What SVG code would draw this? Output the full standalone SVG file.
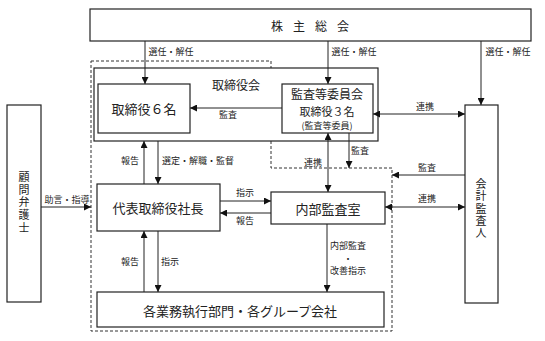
<svg xmlns="http://www.w3.org/2000/svg" width="545" height="341" viewBox="0 0 545 341">
<style>
.box{fill:#fff;stroke:#222;stroke-width:1.2}
.ln{stroke:#222;stroke-width:1;fill:none}
.dash{stroke:#333;stroke-width:1;fill:none;stroke-dasharray:3,2}
text{font-family:"Noto Sans CJK JP","Noto Sans CJK SC",sans-serif;fill:#222;text-anchor:middle;dominant-baseline:central}
.t13{font-size:13px}
.t12{font-size:12px}
.t11{font-size:11px}
.t9{font-size:9px}
.vt{font-size:11px;writing-mode:vertical-rl;dominant-baseline:auto}
</style>
<defs>
<marker id="ah" viewBox="0 0 10 10" refX="10" refY="5" markerWidth="7" markerHeight="7" orient="auto-start-reverse" markerUnits="userSpaceOnUse">
<path d="M0,0 L10,5 L0,10 z" fill="#111"/>
</marker>
</defs>
<rect width="545" height="341" fill="#fff"/>
<g id="boundary">
<path class="dash" d="M91,61 H271 V168 H392 V331 H91 Z"/>
</g>
<g id="kabunushi">
<rect class="box" x="90" y="9" width="441" height="32"/>
<text class="t12" x="315" y="25" letter-spacing="10">株主総会</text>
</g>
<g id="torishimariyakukai">
<rect class="box" x="94" y="68" width="284" height="73"/>
<text class="t12" x="236" y="84">取締役会</text>
</g>
<g id="torishimariyaku6">
<rect class="box" x="98" y="84" width="92" height="49"/>
<text class="t13" x="144" y="108">取締役６名</text>
</g>
<g id="kansa-iinkai">
<rect class="box" x="282" y="84" width="91" height="49"/>
<text class="t12" x="327" y="93">監査等委員会</text>
<text class="t11" x="327" y="110.5">取締役３名</text>
<text class="t9" x="327" y="125.5" font-size="9.5">(監査等委員)</text>
</g>
<g id="kaikei">
<rect class="box" x="465" y="105" width="33" height="198"/>
<text class="vt" x="481" y="209" letter-spacing="1.2">会計監査人</text>
</g>
<g id="komon">
<rect class="box" x="7" y="105" width="34" height="197"/>
<text class="vt" x="24" y="203" letter-spacing="1.6">顧問弁護士</text>
</g>
<g id="daihyo">
<rect class="box" x="97" y="184" width="123" height="47"/>
<text class="t13" x="158" y="207">代表取締役社長</text>
</g>
<g id="naibu">
<rect class="box" x="271" y="192" width="114" height="32"/>
<text class="t13" x="328" y="208">内部監査室</text>
</g>
<g id="gyomu">
<rect class="box" x="97" y="292" width="287" height="35"/>
<text class="t13" x="240" y="310">各業務執行部門・各グループ会社</text>
</g>
<g id="connectors">
<line class="ln" x1="145" y1="41" x2="145" y2="84" marker-end="url(#ah)"/>
<line class="ln" x1="328" y1="41" x2="328" y2="84" marker-end="url(#ah)"/>
<line class="ln" x1="481" y1="41" x2="481" y2="105" marker-end="url(#ah)"/>
<line class="ln" x1="282" y1="108" x2="190" y2="108" marker-end="url(#ah)"/>
<line class="ln" x1="373" y1="114" x2="465" y2="114" marker-start="url(#ah)" marker-end="url(#ah)"/>
<line class="ln" x1="465" y1="175" x2="392" y2="175" marker-end="url(#ah)"/>
<line class="ln" x1="385" y1="207" x2="465" y2="207" marker-start="url(#ah)" marker-end="url(#ah)"/>
<line class="ln" x1="328" y1="133" x2="328" y2="192" marker-start="url(#ah)" marker-end="url(#ah)"/>
<line class="ln" x1="349" y1="133" x2="349" y2="168" marker-end="url(#ah)"/>
<line class="ln" x1="144" y1="184" x2="144" y2="141" marker-end="url(#ah)"/>
<line class="ln" x1="158" y1="141" x2="158" y2="184" marker-end="url(#ah)"/>
<line class="ln" x1="220" y1="201" x2="271" y2="201" marker-end="url(#ah)"/>
<line class="ln" x1="271" y1="213" x2="220" y2="213" marker-end="url(#ah)"/>
<line class="ln" x1="144" y1="292" x2="144" y2="231" marker-end="url(#ah)"/>
<line class="ln" x1="158" y1="231" x2="158" y2="292" marker-end="url(#ah)"/>
<line class="ln" x1="327" y1="224" x2="327" y2="292" marker-end="url(#ah)"/>
<line class="ln" x1="41" y1="207" x2="91" y2="207" marker-end="url(#ah)"/>
<text class="t9" x="171" y="51">選任・解任</text>
<text class="t9" x="354" y="51">選任・解任</text>
<text class="t9" x="508" y="51">選任・解任</text>
<text class="t9" x="228" y="114">監査</text>
<text class="t9" x="425" y="106">連携</text>
<text class="t9" x="427" y="167">監査</text>
<text class="t9" x="427" y="198">連携</text>
<text class="t9" x="313" y="162">連携</text>
<text class="t9" x="360" y="150">監査</text>
<text class="t9" x="130" y="160">報告</text>
<text class="t9" x="198" y="160">選定・解職・監督</text>
<text class="t9" x="245" y="192">指示</text>
<text class="t9" x="245" y="220">報告</text>
<text class="t9" x="130" y="261">報告</text>
<text class="t9" x="170" y="261">指示</text>
<text class="t9" x="348" y="245.5">内部監査</text>
<text class="t9" x="348" y="258">・</text>
<text class="t9" x="348" y="270.5">改善指示</text>
<text class="t9" x="67" y="199">助言・指導</text>
</g>
</svg>
